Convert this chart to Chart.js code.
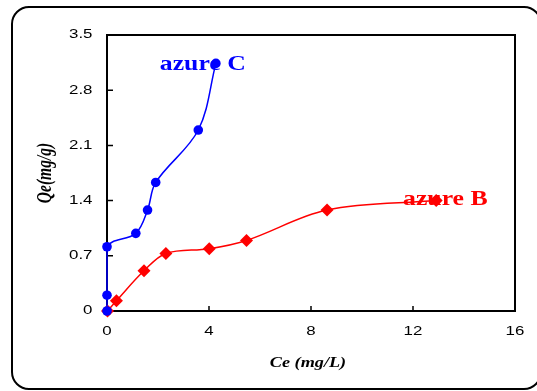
<!DOCTYPE html>
<html>
<head>
<meta charset="utf-8">
<script src="https://cdn.jsdelivr.net/npm/chart.js@4.4.1/dist/chart.umd.min.js"></script>
<style>
    html, body { margin: 0; padding: 0; background: #fff; overflow: hidden; }
    #frame {
        position: absolute; left: 11px; top: 6px; width: 531px; height: 384px;
        box-sizing: border-box; border: 2px solid #000; border-radius: 18px;
    }
    #isotherm { position: absolute; left: 0; top: 0; }
</style>
</head>
<body>
<div id="frame"></div>
<canvas id="isotherm" width="537" height="391"></canvas>
<script>
(function () {
    'use strict';

    // --- data ---
    var xTicks = [0, 4, 8, 12, 16];
    var yTicks = [0, 0.7, 1.4, 2.1, 2.8, 3.5];
    var yTickLabels = ['0', '0.7', '1.4', '2.1', '2.8', '3.5'];

    var azureCx = [0, 0, 0, 1.13, 1.59, 1.91, 3.58, 4.27];
    var azureCy = [0, 0.20, 0.815, 0.985, 1.28, 1.63, 2.295, 3.14];

    var azureBx = [0.02, 0.37, 1.45, 2.31, 4.01, 5.47, 8.63, 12.91];
    var azureBy = [0, 0.13, 0.51, 0.73, 0.79, 0.895, 1.28, 1.40];

    // series labels, anchored in data units (left end, baseline)
    var seriesLabels = [
        { text: 'azure C', x: 2.07, y: 3.05, color: '#0000FF' },
        { text: 'azure B', x: 11.61, y: 1.345, color: '#FF0000' }
    ];

    var SANS = "'Liberation Sans', Arial, sans-serif";
    var SERIF = "'Liberation Serif', 'Times New Roman', serif";
    var STRETCH = 1.35; // the original figure is stretched horizontally

    function pts(xs, ys) {
        return xs.map(function (x, i) { return { x: x, y: ys[i] }; });
    }

    function wideText(ctx, text, x, y, sx, align, baseline) {
        ctx.save();
        ctx.translate(x, y);
        ctx.scale(sx, 1);
        ctx.textAlign = align;
        ctx.textBaseline = baseline;
        ctx.fillText(text, 0, 0);
        ctx.restore();
    }

    var framePlugin = {
        id: 'frameAndText',
        beforeDatasetsDraw: function (chart) {
            var ctx = chart.ctx;
            var a = chart.chartArea;
            var xs = chart.scales.x;
            var ys = chart.scales.y;

            // plot box
            ctx.save();
            ctx.strokeStyle = '#000';
            ctx.lineWidth = 2;
            ctx.strokeRect(a.left, a.top, a.right - a.left, a.bottom - a.top);

            // inward tick marks
            ctx.lineWidth = 1.5;
            ctx.beginPath();
            xTicks.forEach(function (v) {
                var px = xs.getPixelForValue(v);
                ctx.moveTo(px, a.bottom);
                ctx.lineTo(px, a.bottom - 5);
            });
            yTicks.forEach(function (v) {
                var py = ys.getPixelForValue(v);
                ctx.moveTo(a.left, py);
                ctx.lineTo(a.left + 6, py);
            });
            ctx.stroke();

            // tick labels
            ctx.fillStyle = '#000';
            ctx.font = '12.5px ' + SANS;
            xTicks.forEach(function (v) {
                wideText(ctx, String(v), xs.getPixelForValue(v), 332, STRETCH, 'center', 'middle');
            });
            yTicks.forEach(function (v, i) {
                wideText(ctx, yTickLabels[i], a.left - 14.5, ys.getPixelForValue(v), STRETCH, 'right', 'middle');
            });

            // axis titles
            ctx.font = 'italic bold 14px ' + SERIF;
            wideText(ctx, 'Ce (mg/L)', 308, 363, 1.3, 'center', 'middle');

            ctx.save();
            ctx.translate(46, 173);
            ctx.rotate(-Math.PI / 2);
            ctx.scale(1, 1.35);
            ctx.font = 'italic bold 15.5px ' + SERIF;
            ctx.textAlign = 'center';
            ctx.textBaseline = 'middle';
            ctx.fillText('Qe(mg/g)', 0, 0);
            ctx.restore();

            // series labels
            ctx.font = 'bold 22px ' + SERIF;
            seriesLabels.forEach(function (l) {
                ctx.fillStyle = l.color;
                wideText(ctx, l.text, xs.getPixelForValue(l.x), ys.getPixelForValue(l.y), 1.17, 'left', 'alphabetic');
            });
            ctx.restore();
        }
    };

    new Chart(document.getElementById('isotherm'), {
        type: 'scatter',
        data: {
            datasets: [
                {
                    label: 'azure C',
                    data: pts(azureCx, azureCy),
                    showLine: true,
                    tension: 0.35,
                    borderColor: '#0000FF',
                    borderWidth: 1.5,
                    backgroundColor: '#0000FF',
                    pointBackgroundColor: '#0000FF',
                    pointBorderWidth: 0,
                    pointStyle: 'circle',
                    pointRadius: 4.8,
                    clip: 8
                },
                {
                    label: 'azure B',
                    data: pts(azureBx, azureBy),
                    showLine: true,
                    tension: 0.35,
                    borderColor: '#FF0000',
                    borderWidth: 1.5,
                    backgroundColor: '#FF0000',
                    pointBackgroundColor: '#FF0000',
                    pointBorderWidth: 0,
                    pointStyle: 'rectRot',
                    pointRadius: 6.5,
                    clip: 8
                }
            ]
        },
        options: {
            responsive: false,
            animation: false,
            devicePixelRatio: 1,
            layout: { padding: { left: 0, right: 22, top: 35, bottom: 0 } },
            plugins: {
                legend: { display: false },
                tooltip: { enabled: false }
            },
            scales: {
                x: {
                    type: 'linear',
                    min: 0,
                    max: 16,
                    ticks: { display: false, stepSize: 4 },
                    grid: { display: false, drawTicks: false },
                    border: { display: false },
                    afterFit: function (s) { s.height = 80; }
                },
                y: {
                    type: 'linear',
                    min: 0,
                    max: 3.5,
                    ticks: { display: false },
                    grid: { display: false, drawTicks: false },
                    border: { display: false },
                    afterBuildTicks: function (s) {
                        s.ticks = yTicks.map(function (v) { return { value: v }; });
                    },
                    afterFit: function (s) { s.width = 107; }
                }
            }
        },
        plugins: [framePlugin]
    });
})();
</script>
</body>
</html>
